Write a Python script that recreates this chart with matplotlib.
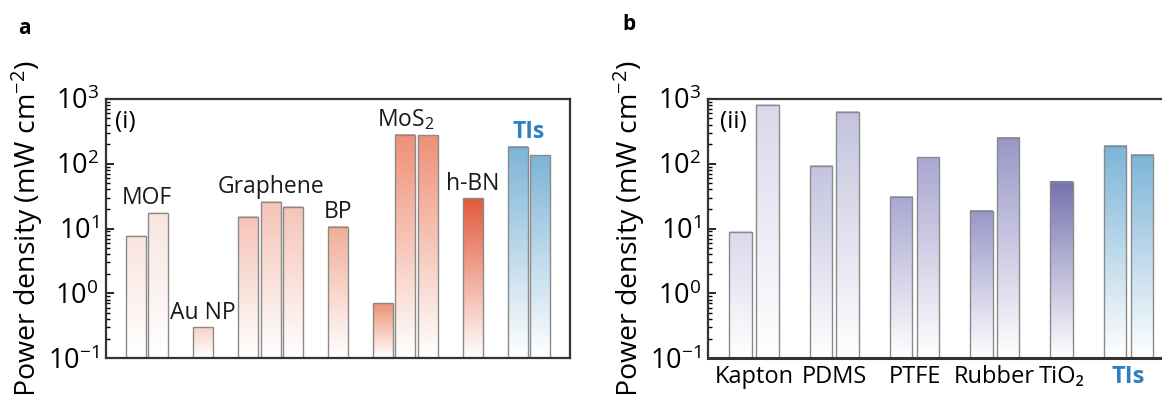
import numpy as np
import matplotlib
matplotlib.use("Agg")
from matplotlib import pyplot as plt
from matplotlib.colors import LinearSegmentedColormap
from matplotlib.ticker import LogLocator, FuncFormatter, NullFormatter

plt.rcParams['font.family'] = ['Open Sans', 'DejaVu Sans']
plt.rcParams['mathtext.fontset'] = 'custom'
plt.rcParams['mathtext.rm'] = 'Open Sans'
plt.rcParams['mathtext.it'] = 'Open Sans:italic'
plt.rcParams['mathtext.bf'] = 'Open Sans:bold'

# panel a (i): 2D materials
names_a = ["MOF", "Au NP", "Graphene", "BP", "MoS$_2$", "h-BN", "TIs"]
values_a = [[7.6, 17.4], [0.30], [15.1, 25.5, 21.3], [10.7], [0.70, 279, 272], [29], [180, 134]]
colors_a = ["#f9e5e0", "#f6d2c7", "#f5c4b6", "#f1ad98", "#ee9076", "#e4583a", "#7db4d7"]

# panel b (ii): polymers / oxides
names_b = ["Kapton", "PDMS", "PTFE", "Rubber", "TiO₂", "TIs"]
values_b = [[8.8, 805], [92.5, 630], [30.7, 125], [18.7, 250], [52.4], [188, 135]]
colors_b = ["#d9d9ec", "#c3c3df", "#a9a7d0", "#9896c7", "#7571b0", "#7db4d7"]

TI_BLUE = "#2f7fc1"
YMIN, YMAX = 0.1, 1000
grad = np.linspace(0, 1, 256).reshape(-1, 1)


def slots(groups):
    pos, x = [], 0
    for g in groups:
        pos.append(list(range(x, x + len(g))))
        x += len(g) + 1
    return pos


def panel(ax, groups, colors, xlim, width):
    ax.set_yscale('log')
    ax.set_xlim(*xlim)
    ax.set_ylim(YMIN, YMAX)
    to_ax = lambda x, y: ax.transAxes.inverted().transform(ax.transData.transform((x, y)))
    pos = slots(groups)
    for xs, vs, c in zip(pos, groups, colors):
        cmap = LinearSegmentedColormap.from_list("g", ["white", c])
        for x, v in zip(xs, vs):
            x0, y0 = to_ax(x - width / 2, YMIN)
            x1, y1 = to_ax(x + width / 2, v)
            ax.imshow(grad, extent=(x0, x1, y0, y1), transform=ax.transAxes, cmap=cmap,
                      aspect='auto', origin='lower', zorder=1, interpolation='bilinear')
            ax.bar(x, v - YMIN, width=width, bottom=YMIN, facecolor='none',
                   edgecolor='#8a8a8a', lw=1.0, zorder=2)
    ax.set_xlim(*xlim)
    ax.set_ylim(YMIN, YMAX)
    ax.yaxis.set_major_locator(LogLocator(base=10, numticks=10))
    ax.yaxis.set_minor_locator(LogLocator(base=10, subs=np.arange(2, 10), numticks=20))
    ax.yaxis.set_minor_formatter(NullFormatter())
    ax.yaxis.set_major_formatter(FuncFormatter(lambda v, p: r'$\mathregular{10^{%d}}$' % round(np.log10(v))))
    ax.tick_params(axis='y', which='major', direction='in', length=6, width=1.2, labelsize=19.5, pad=5)
    ax.tick_params(axis='y', which='minor', direction='in', length=3, width=1.0)
    ax.tick_params(axis='y', right=False)
    for s in ax.spines.values():
        s.set_color('#333333')
        s.set_linewidth(1.6)
    ax.set_ylabel('Power density (mW cm$^{-2}$)', fontsize=20.5, labelpad=2)
    return pos


fig = plt.figure(figsize=(11.62, 3.94), dpi=100)
ax1 = fig.add_axes([0.0909, 0.0906, 0.4, 0.6589])
ax2 = fig.add_axes([0.6091, 0.0906, 0.4017, 0.6589])

pos_a = panel(ax1, values_a, colors_a, (-1.34, 19.35), 0.89)
ax1.set_xticks([])
for xs, vs, name in zip(pos_a, values_a, names_a):
    ti = name == "TIs"
    ax1.text(np.mean(xs), max(vs) * 1.1, name, ha='center', va='bottom', fontsize=16.5,
             color=TI_BLUE if ti else '#1a1a1a', fontweight='bold' if ti else 'normal')
ax1.text(0.02, 0.955, "(i)", transform=ax1.transAxes, ha='left', va='top', fontsize=17.5)

pos_b = panel(ax2, values_b, colors_b, (-1.23, 16.22), 0.84)
ax2.set_xticks([np.mean(xs) for xs in pos_b])
ax2.set_xticklabels(names_b, fontsize=17)
ax2.tick_params(axis='x', length=0, pad=5)
lab = ax2.get_xticklabels()[-1]
lab.set_color(TI_BLUE)
lab.set_fontweight('bold')
ax2.spines['bottom'].set_linewidth(2.2)
ax2.text(0.026, 0.955, "(ii)", transform=ax2.transAxes, ha='left', va='top', fontsize=17.5)

fig.text(18 / 1162, 1 - 28 / 394, "a", fontsize=15, fontweight='bold', va='center')
fig.text(622 / 1162, 1 - 24 / 394, "b", fontsize=15, fontweight='bold', va='center')

fig.savefig("out.png", dpi=100)
